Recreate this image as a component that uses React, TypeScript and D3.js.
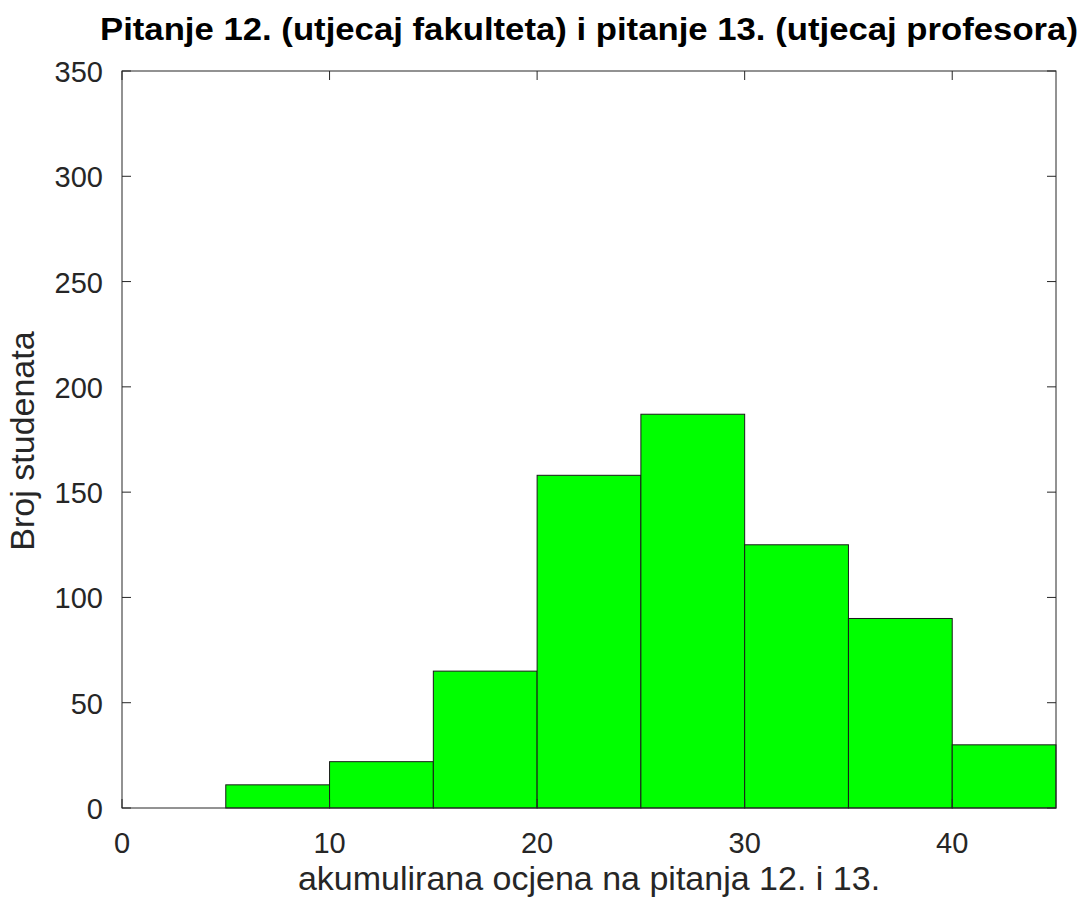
import React from "react";
import * as d3 from "d3";

const binStarts = [0, 5, 10, 15, 20, 25, 30, 35, 40];
const binWidth = 5;
const counts = [0, 11, 22, 65, 158, 187, 125, 90, 30];
const xTicks = [0, 10, 20, 30, 40];
const yTicks = [0, 50, 100, 150, 200, 250, 300, 350];
const title = "Pitanje 12. (utjecaj fakulteta) i pitanje 13. (utjecaj profesora)";
const xLabel = "akumulirana ocjena na pitanja 12. i 13.";
const yLabel = "Broj studenata";

export default function App() {
  const W = 1086, H = 897;
  const left = 122, right = 1056, top = 71, bottom = 808;
  const x = d3.scaleLinear().domain([0, 45]).range([left, right]);
  const y = d3.scaleLinear().domain([0, 350]).range([bottom, top]);
  const font = "'Liberation Sans', Arial, Helvetica, sans-serif";
  const tl = 9;
  return (
    <svg width={W} height={H} style={{ position: "absolute", left: 0, top: 0 }}>
      <rect x={0} y={0} width={W} height={H} fill="#fff" />
      {binStarts.map((b, i) => (
        <rect key={i} x={x(b)} y={y(counts[i])} width={x(b + binWidth) - x(b)} height={y(0) - y(counts[i])}
          fill="#00ff00" stroke="#1a1a1a" strokeWidth={1} />
      ))}
      <rect x={left} y={top} width={right - left} height={bottom - top} fill="none" stroke="#262626" strokeWidth={1} />
      {xTicks.map((t) => (
        <g key={"x" + t}>
          <line x1={x(t)} x2={x(t)} y1={bottom} y2={bottom - tl} stroke="#262626" />
          <line x1={x(t)} x2={x(t)} y1={top} y2={top + tl} stroke="#262626" />
          <text x={x(t)} y={853} textAnchor="middle" fontFamily={font} fontSize={29} fill="#262626">{t}</text>
        </g>
      ))}
      {yTicks.map((t) => (
        <g key={"y" + t}>
          <line x1={left} x2={left + tl} y1={y(t)} y2={y(t)} stroke="#262626" />
          <line x1={right} x2={right - tl} y1={y(t)} y2={y(t)} stroke="#262626" />
          <text x={103} y={y(t) + 11} textAnchor="end" fontFamily={font} fontSize={29} fill="#262626">{t}</text>
        </g>
      ))}
      <text x={100} y={39.5} textLength={978} lengthAdjust="spacingAndGlyphs" fontFamily={font} fontSize={30.5} fontWeight="bold" fill="#000">{title}</text>
      <text x={589} y={890} textAnchor="middle" fontFamily={font} fontSize={34} fill="#262626">{xLabel}</text>
      <text transform={`translate(34, 441) rotate(-90)`} textAnchor="middle" fontFamily={font} fontSize={34} fill="#262626">{yLabel}</text>
    </svg>
  );
}
